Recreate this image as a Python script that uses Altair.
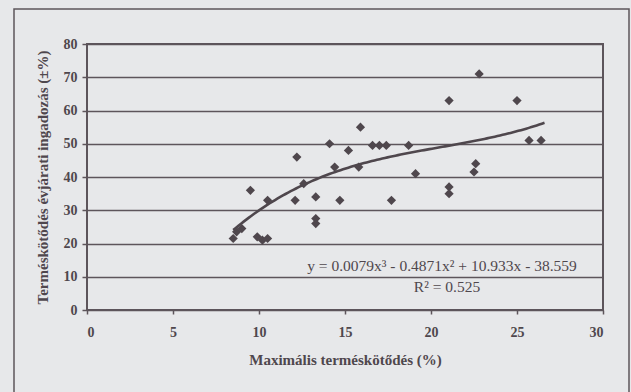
import altair as alt
import numpy as np
import pandas as pd

# Maximum fruit set (%) and year-to-year fluctuation of fruit set (±%)
max_set = [8.5, 8.7, 9.0, 9.9, 10.2, 10.5, 9.5, 10.5, 12.1, 12.2, 12.6, 13.3,
           13.3, 13.3, 14.1, 14.4, 14.7, 15.2, 15.8, 15.9, 16.6, 17.0, 17.4,
           17.7, 18.7, 19.1, 21.05, 21.05, 21.05, 22.5, 22.6, 22.8, 25.0, 25.7, 26.4]
fluct = [21.5, 23.5, 24.5, 22, 21, 21.5, 36, 33, 33, 46, 38, 34,
         26, 27.5, 50, 43, 33, 48, 43, 55, 49.5, 49.5, 49.5,
         33, 49.5, 41, 63, 37, 35, 41.5, 44, 71, 63, 51, 51]

# Third-order polynomial trend (coefficients as printed on the chart)
coef = [0.0079, -0.4871, 10.933, -38.559]
trend_range = [8.5, 26.6]
equation = "y = 0.0079x³ - 0.4871x² + 10.933x - 38.559"
r_squared = "R² = 0.525"

x_ticks = [0, 5, 10, 15, 20, 25, 30]
y_ticks = [0, 10, 20, 30, 40, 50, 60, 70, 80]

ink = "#4f474d"
grid = "#5d555b"
bg = "#e7e8ea"

points = pd.DataFrame({"x": max_set, "y": fluct})
tx = np.linspace(trend_range[0], trend_range[1], 120)
trend = pd.DataFrame({"x": tx, "y": np.polyval(coef, tx)})

xs = alt.Scale(domain=[0, 30], nice=False)
ys = alt.Scale(domain=[0, 80], nice=False)

x_axis = alt.Axis(values=x_ticks, grid=False, labelOverlap=False,
                  title="Maximális terméskötődés (%)", titlePadding=13,
                  labelPadding=11, tickSize=4, domain=False)
y_axis = alt.Axis(values=y_ticks, grid=True, labelOverlap=False,
                  title="Terméskötődés évjárati ingadozás (±%)",
                  titlePadding=13, labelPadding=5, tickSize=5, domain=False)

line = alt.Chart(trend).mark_line(color=ink, strokeWidth=2.6).encode(
    x=alt.X("x:Q", scale=xs, axis=x_axis),
    y=alt.Y("y:Q", scale=ys, axis=y_axis),
)

pts = alt.Chart(points).mark_point(
    shape="diamond", filled=True, size=85, color=ink, opacity=1
).encode(
    x=alt.X("x:Q", scale=xs, axis=x_axis),
    y=alt.Y("y:Q", scale=ys, axis=y_axis),
)

eq_text = alt.Chart(pd.DataFrame({"t": [equation]})).mark_text(
    font="Liberation Serif", fontSize=15.5, color=ink, align="center"
).encode(x=alt.value(355), y=alt.value(222), text="t:N")

r2_text = alt.Chart(pd.DataFrame({"t": [r_squared]})).mark_text(
    font="Liberation Serif", fontSize=15.5, color=ink, align="center"
).encode(x=alt.value(360), y=alt.value(243), text="t:N")

# outer chart-area frame
frame = alt.Chart(pd.DataFrame({"k": [0]})).mark_rect(
    fill=None, stroke=grid, strokeWidth=1.5, clip=False
).encode(x=alt.value(-73), x2=alt.value(542), y=alt.value(-35), y2=alt.value(360))

chart = alt.layer(line, pts, eq_text, r2_text, frame).properties(
    width=516, height=266,
    autosize=alt.AutoSizeParams(type="none"),
    padding={"left": 87, "top": 44, "right": 28, "bottom": 82},
    background=bg,
).configure_view(
    stroke=grid, strokeWidth=2, fill=bg
).configure_axis(
    gridColor=grid, gridWidth=1.6, gridOpacity=1,
    tickColor=grid, tickWidth=1.5,
    labelFont="Liberation Serif", labelFontSize=14, labelFontWeight="bold",
    labelColor=ink,
    titleFont="Liberation Serif", titleFontSize=15, titleFontWeight="bold",
    titleColor=ink,
)

chart.save("out.html", embed_options={"renderer": "svg", "actions": False})
